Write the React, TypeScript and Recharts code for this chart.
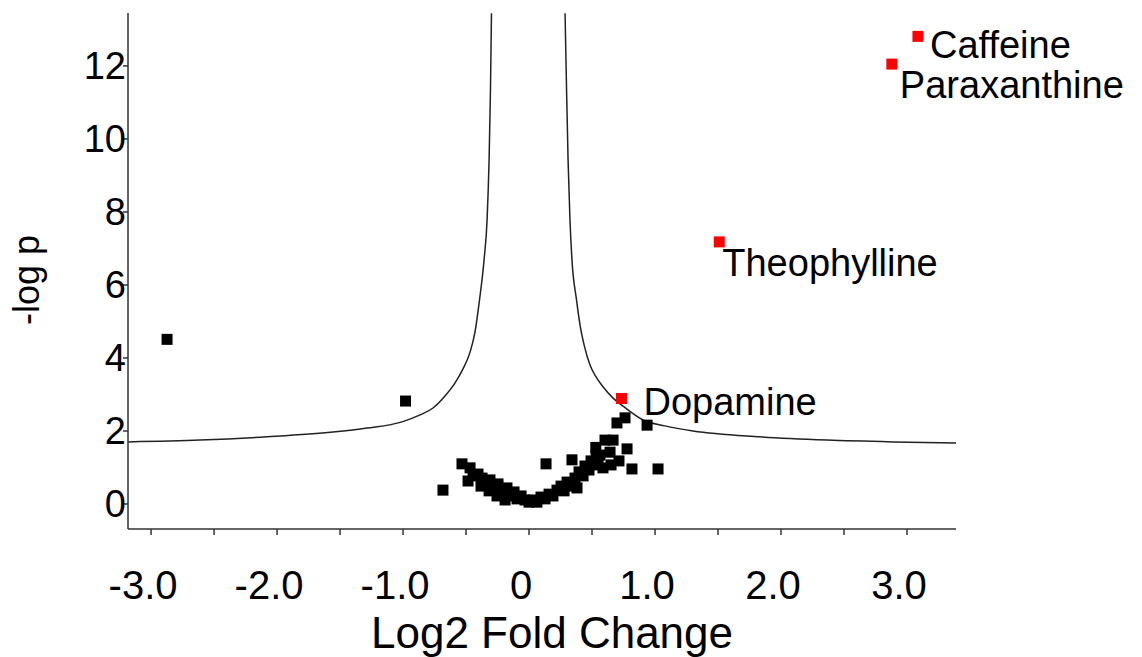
import React from 'react';
import { ScatterChart, Scatter, XAxis, YAxis, Label } from 'recharts';

// ---- data ----
const xTicks = [-3, -2.5, -2, -1.5, -1, -0.5, 0, 0.5, 1, 1.5, 2, 2.5, 3];
const xTickLabels: Record<string, string> = { '-3': '-3.0', '-2': '-2.0', '-1': '-1.0', '0': '0', '1': '1.0', '2': '2.0', '3': '3.0' };
const yTicks = [0, 2, 4, 6, 8, 10, 12];

const blackX = [
  -2.873, -0.98, -0.683,
  -0.532, -0.468, -0.444, -0.484, -0.405, -0.373, -0.341, -0.381, -0.31, -0.278, -0.317, -0.246, -0.23, -0.254,
  -0.198, -0.175, -0.151, -0.19, -0.119, -0.095, -0.063, -0.032, 0.0, 0.032, 0.063, 0.095, 0.127, 0.159, 0.19,
  0.135,
  0.222, 0.254, 0.278, 0.302, 0.333, 0.365, 0.381, 0.341, 0.397, 0.429, 0.444, 0.476, 0.492, 0.516, 0.532, 0.548,
  0.563, 0.53, 0.603, 0.667, 0.587, 0.651, 0.714, 0.643, 0.778, 0.698, 0.762, 0.937, 0.817, 1.024,
];
const blackY = [
  4.51, 2.82, 0.38,
  1.1, 0.99, 0.77, 0.63, 0.82, 0.71, 0.6, 0.49, 0.66, 0.49, 0.36, 0.55, 0.38, 0.22,
  0.27, 0.44, 0.22, 0.11, 0.33, 0.14, 0.22, 0.11, 0.05, 0.11, 0.05, 0.19, 0.14, 0.27, 0.22,
  1.1,
  0.38, 0.49, 0.36, 0.6, 0.49, 0.71, 0.44, 1.21, 0.88, 0.77, 1.04, 0.93, 1.18, 1.07, 1.32, 1.15,
  1.34, 1.55, 1.75, 1.75, 0.99, 1.07, 1.18, 1.42, 1.51, 2.22, 2.36, 2.16, 0.96, 0.96,
];

const sigNames = ['Caffeine', 'Paraxanthine', 'Theophylline', 'Dopamine'];
const sigX = [3.087, 2.88, 1.51, 0.734];
const sigY = [12.81, 12.05, 7.18, 2.89];

const curveLeftX = [-3.18, -2.611, -2.079, -1.556, -1.286, -1.008, -0.865, -0.762, -0.667, -0.587, -0.524, -0.468, -0.429, -0.393, -0.357, -0.333, -0.317, -0.306, -0.298];
const curveLeftY = [1.7, 1.75, 1.84, 1.97, 2.08, 2.25, 2.44, 2.63, 2.96, 3.32, 3.7, 4.16, 4.71, 5.59, 6.68, 7.78, 9.42, 11.34, 13.44];
const curveRightX = [0.286, 0.298, 0.31, 0.325, 0.341, 0.377, 0.405, 0.437, 0.484, 0.532, 0.587, 0.667, 0.746, 0.905, 1.079, 1.302, 1.833, 2.365, 2.889, 3.389];
const curveRightY = [13.44, 11.34, 9.42, 7.78, 6.68, 5.59, 4.9, 4.36, 3.81, 3.48, 3.21, 2.9, 2.68, 2.3, 2.14, 2.0, 1.84, 1.75, 1.7, 1.67];

// ---- styling ----
const FONT = '"Liberation Sans", Arial, sans-serif';
const AXIS_COLOR = '#333333';
const labelOffsets: Record<string, [number, number]> = {
  Caffeine: [12, 22],
  Paraxanthine: [8, 34],
  Theophylline: [3, 34],
  Dopamine: [22, 17],
};

const blackData = blackX.map((x, i) => ({ x, y: blackY[i] }));
const sigData = sigX.map((x, i) => ({ x, y: sigY[i], name: sigNames[i] }));
const leftCurve = curveLeftX.map((x, i) => ({ x, y: curveLeftY[i] }));
const rightCurve = curveRightX.map((x, i) => ({ x, y: curveRightY[i] }));

const SQ = 11;
const BlackSquare = (p: any) => (
  <rect x={p.cx - SQ / 2} y={p.cy - SQ / 2} width={SQ} height={SQ} fill="#000000" />
);
const RedSquare = (p: any) => {
  const off = labelOffsets[p.payload?.name] || [10, 10];
  return (
    <g>
      <rect x={p.cx - SQ / 2} y={p.cy - SQ / 2} width={SQ} height={SQ} fill="#ff0000" />
      <text x={p.cx + off[0]} y={p.cy + off[1]} fontSize={38} fontFamily={FONT} fill="#000">
        {p.payload?.name}
      </text>
    </g>
  );
};
const NoShape = () => <g />;

const XTick = (p: any) => {
  const v = p.payload.value;
  const lbl = xTickLabels[String(v)];
  if (!lbl) return <g />;
  return (
    <text x={p.x - 8} y={p.y + 62} textAnchor="middle" fontSize={40} fontFamily={FONT} fill="#000">
      {lbl}
    </text>
  );
};
const YTick = (p: any) => (
  <text x={p.x + 5} y={p.y} dy="0.355em" textAnchor="end" fontSize={38} fontFamily={FONT} fill="#000">
    {p.payload.value}
  </text>
);

export default function App() {
  return (
    <div style={{ position: 'absolute', left: 0, top: 0, background: '#fff' }}>
      <ScatterChart width={1142} height={657} margin={{ top: 13, right: 186, bottom: 0, left: 0 }}>
        <XAxis
          type="number"
          dataKey="x"
          domain={[-3.183, 3.389]}
          ticks={xTicks}
          height={128}
          tickSize={6}
          tick={<XTick />}
          axisLine={{ stroke: AXIS_COLOR, strokeWidth: 1.5 }}
          tickLine={{ stroke: AXIS_COLOR, strokeWidth: 1.5 }}
        >
          <Label
            content={(props: any) => {
              const vb = props.viewBox || {};
              return (
                <text x={vb.x + vb.width / 2 + 10} y={vb.y + 119} textAnchor="middle" fontSize={44} fontFamily={FONT} fill="#000">
                  Log2 Fold Change
                </text>
              );
            }}
          />
        </XAxis>
        <YAxis
          type="number"
          dataKey="y"
          domain={[-0.685, 13.45]}
          ticks={yTicks}
          width={128}
          tickSize={5}
          tick={<YTick />}
          axisLine={{ stroke: AXIS_COLOR, strokeWidth: 1.5 }}
          tickLine={{ stroke: AXIS_COLOR, strokeWidth: 1.5 }}
        >
          <Label
            content={(props: any) => {
              const vb = props.viewBox || {};
              const cx = vb.x + 39;
              const cy = vb.y + vb.height / 2 + 9;
              return (
                <text x={cx} y={cy} transform={`rotate(-90 ${cx} ${cy})`} textAnchor="middle" fontSize={36} fontFamily={FONT} fill="#000">
                  -log p
                </text>
              );
            }}
          />
        </YAxis>
        <Scatter data={leftCurve} line={{ stroke: '#222', strokeWidth: 1.5 }} lineJointType="monotoneX" shape={NoShape} isAnimationActive={false} />
        <Scatter data={rightCurve} line={{ stroke: '#222', strokeWidth: 1.5 }} lineJointType="monotoneX" shape={NoShape} isAnimationActive={false} />
        <Scatter data={blackData} shape={BlackSquare} isAnimationActive={false} />
        <Scatter data={sigData} shape={RedSquare} isAnimationActive={false} />
      </ScatterChart>
    </div>
  );
}
